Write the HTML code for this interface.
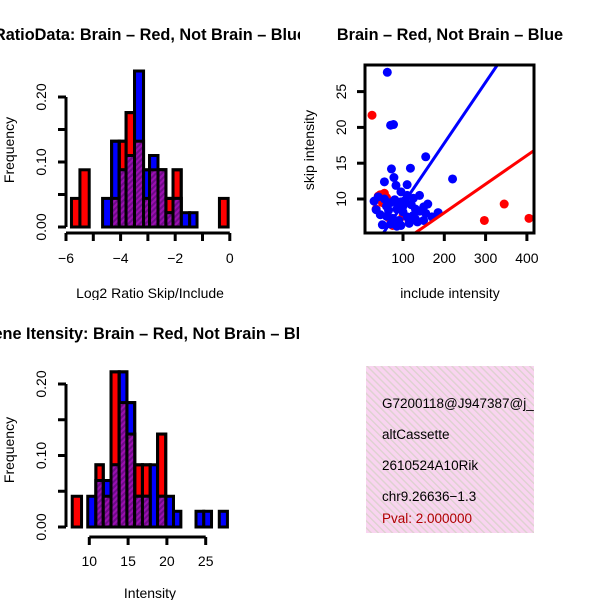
<!DOCTYPE html>
<html><head><meta charset="utf-8"><style>
body{margin:0;background:#fff}
svg{display:block;font-family:"Liberation Sans",sans-serif}
</style></head><body>
<svg id="c" width="600" height="600" xmlns="http://www.w3.org/2000/svg">
<defs>
<pattern id="hp" width="4" height="4" patternUnits="userSpaceOnUse" patternTransform="rotate(45)">
<rect width="4" height="4" fill="#9a10b0"/><rect width="2" height="4" fill="#6e0a88"/></pattern>
<pattern id="pk" width="5" height="5" patternUnits="userSpaceOnUse" patternTransform="rotate(-45)">
<rect width="5" height="5" fill="#f9d4f0"/><rect width="1.4" height="5" fill="#ddd2cf"/></pattern>
<clipPath id="lp1"><rect x="0" y="0" width="300" height="300"/></clipPath>
<clipPath id="lp3"><rect x="0" y="300" width="300" height="300"/></clipPath>
</defs>
</svg>
<script>
// Top-left histogram (log2 ratio)
const h1Left=[-5.80,-5.49,-4.66,-4.33,-4.05,-3.80,-3.49,-3.16,-2.94,-2.63,-2.34,-2.08,-1.78,-1.47,-0.38];
const h1Right=[-5.49,-5.15,-4.33,-4.05,-3.80,-3.49,-3.16,-2.94,-2.63,-2.34,-2.08,-1.78,-1.47,-1.20,-0.06];
const h1Red=[0.044,0.088,0,0.044,0.132,0.176,0.132,0.044,0.088,0.088,0.044,0.088,0,0,0.044];
const h1Blue=[0,0,0.044,0.132,0.088,0.110,0.240,0.088,0.110,0.088,0.022,0.044,0.022,0.022,0];
const h1XTicks=[-6,-5,-4,-3,-2,-1,0];
const h1XLabels=["−6","","−4","","−2","","0"];
const h1YTicks=[0,0.05,0.10,0.15,0.20];
const h1YLabels=["0.00","","0.10","","0.20"];
// Bottom-left histogram (intensity)
const h2Left=[7.8,9.8,10.85,11.8,12.8,13.85,14.85,15.85,16.85,17.85,18.8,19.85,20.85,23.75,24.75,26.75];
const h2Right=[9.0,10.85,11.8,12.8,13.85,14.85,15.85,16.85,17.85,18.8,19.85,20.85,21.8,24.75,25.75,27.8];
const h2Red=[0.043,0,0.087,0.043,0.217,0.174,0.130,0.087,0.087,0,0.130,0,0,0,0,0];
const h2Blue=[0,0.043,0.065,0.065,0.087,0.217,0.174,0.043,0.043,0.087,0.043,0.043,0.022,0.022,0.022,0.022];
const h2XTicks=[10,15,20,25];
const h2YTicks=[0,0.05,0.10,0.15,0.20];
const h2YLabels=["0.00","","0.10","","0.20"];
// Scatter
const blueX=[62,70,77,155,220,118,72,78,55,83,110,185,160,30,40,55,70,80,95,105,120,130,140,150,85,100,110,125,90,75,60,45,115,95,70,50,135,150,65,100,125,140,110,95,88,35,60,155,170,85,130];
const blueY=[27.7,20.3,20.4,15.9,12.8,14.3,14.2,13.0,12.4,11.9,12.0,8.1,9.3,9.7,10.3,10.0,9.5,9.9,9.6,9.8,9.2,8.6,8.3,8.9,8.6,8.2,7.5,7.7,7.0,7.3,7.6,7.8,6.6,6.3,6.5,6.4,6.8,7.0,8.4,9.0,10.1,10.5,10.5,11.0,9.2,8.5,9.0,8.0,7.5,6.2,7.2];
const redX=[25,297,345,405,35,40,45,55,60,50,65,90,100,115,75,115];
const redY=[21.7,7.0,9.3,7.3,8.6,10.4,10.6,10.8,10.2,9.5,7.4,6.5,7.6,6.9,6.3,7.2];
const blueFit=[0.085,0.8];
const redFit=[0.040,0.08];
const sxTicks=[100,200,300,400];
const syTicks=[10,15,20,25];

const svg=document.getElementById('c');
const NS='http://www.w3.org/2000/svg';
const FS=14, TFS=16.3;
function mk(tag,attrs,parent){const e=document.createElementNS(NS,tag);for(const k in attrs)e.setAttribute(k,attrs[k]);(parent||svg).appendChild(e);return e;}
function txt(s,x,y,opt,parent){const t=mk('text',Object.assign({x:x,y:y,'font-size':FS,'text-anchor':'middle'},opt||{}),parent);t.textContent=s;return t;}

function hist(g,L,R,Rd,Bl,sx,sy){
  const y0=sy(0);
  for(let i=0;i<L.length;i++){
    const x1=sx(L[i]),x2=sx(R[i]);
    if(Rd[i]>0){const r=mk('rect',{x:x1,y:sy(Rd[i]),width:x2-x1,height:y0-sy(Rd[i]),fill:'#ff0000',stroke:'#000','stroke-width':3},g);
      
      }
    if(Bl[i]>0){const b=mk('rect',{x:x1,y:sy(Bl[i]),width:x2-x1,height:y0-sy(Bl[i]),fill:'#0000ff',stroke:'#000','stroke-width':3},g);
      
      }
  }
  for(let i=0;i<L.length;i++){
    const m=Math.min(Rd[i],Bl[i]);
    if(Rd[i]>0&&Bl[i]>0){
      const x1=sx(L[i]),x2=sx(R[i]),top=Math.max(Rd[i],Bl[i]);
      mk('rect',{x:x1,y:sy(top),width:x2-x1,height:y0-sy(top),fill:'none',stroke:'#000','stroke-width':3},g);
      const p=mk('rect',{x:x1,y:sy(m),width:x2-x1,height:y0-sy(m),fill:'url(#hp)',stroke:'#000','stroke-width':3},g);
      
      
    }
  }
}

// Panel 1
{
const g=mk('g',{'clip-path':'url(#lp1)'});


const sx=v=>66+(v+6)*27.3, sy=v=>227-v*650;
hist(g,h1Left,h1Right,h1Red,h1Blue,sx,sy);
mk('line',{x1:66,y1:sy(0),x2:66,y2:sy(0.2),stroke:'#000','stroke-width':3},g);
h1YTicks.forEach((t,i)=>{mk('line',{x1:58,y1:sy(t),x2:66,y2:sy(t),stroke:'#000','stroke-width':3},g);
 if(h1YLabels[i]) txt(h1YLabels[i],0,0,{transform:`translate(46,${sy(t)}) rotate(-90)`},g);});
mk('line',{x1:sx(-6),y1:233,x2:sx(0),y2:233,stroke:'#000','stroke-width':3},g);
h1XTicks.forEach((t,i)=>{mk('line',{x1:sx(t),y1:233,x2:sx(t),y2:241,stroke:'#000','stroke-width':3},g);
 if(h1XLabels[i]) txt(h1XLabels[i],sx(t),263,{},g);});
const t1=txt('RatioData: Brain – Red, Not Brain – Blue',150,40,{'font-size':TFS,'font-weight':'bold'},g);

txt('Log2 Ratio Skip/Include',150,298,{},g);
txt('Frequency',0,0,{transform:'translate(14,150) rotate(-90)'},g);
}
// Panel 3
{
const g=mk('g',{'clip-path':'url(#lp3)'});


const sx=v=>89.3+(v-10)*7.76, sy=v=>527-v*715;
hist(g,h2Left,h2Right,h2Red,h2Blue,sx,sy);
mk('line',{x1:66,y1:sy(0),x2:66,y2:sy(0.2),stroke:'#000','stroke-width':3},g);
h2YTicks.forEach((t,i)=>{mk('line',{x1:58,y1:sy(t),x2:66,y2:sy(t),stroke:'#000','stroke-width':3},g);
 if(h2YLabels[i]) txt(h2YLabels[i],0,0,{transform:`translate(46,${sy(t)}) rotate(-90)`},g);});
mk('line',{x1:sx(10),y1:537,x2:sx(25),y2:537,stroke:'#000','stroke-width':3},g);
h2XTicks.forEach(t=>{mk('line',{x1:sx(t),y1:537,x2:sx(t),y2:545,stroke:'#000','stroke-width':3},g);
 txt(String(t),sx(t),566,{},g);});
txt('Gene Itensity: Brain – Red, Not Brain – Blue',150,339,{'font-size':TFS,'font-weight':'bold'},g);
txt('Intensity',150,598,{},g);
txt('Frequency',0,0,{transform:'translate(14,450) rotate(-90)'},g);
}
// Panel 2 scatter
{
const g=mk('g',{});


const sx=v=>403+(v-100)*0.413, sy=v=>199-(v-10)*7.16;
const cp=mk('clipPath',{id:'sc'},g);mk('rect',{x:365,y:65,width:169,height:168},cp);
const pg=mk('g',{'clip-path':'url(#sc)'},g);
for(let i=0;i<redX.length;i++){const c=mk('circle',{cx:sx(redX[i]),cy:sy(redY[i]),r:4.5,fill:'#ff0000'},pg);
 }
for(let i=0;i<blueX.length;i++){const c=mk('circle',{cx:sx(blueX[i]),cy:sy(blueY[i]),r:4.5,fill:'#0000ff'},pg);
 }
const bl=mk('line',{x1:sx(0),y1:sy(blueFit[1]),x2:sx(500),y2:sy(blueFit[0]*500+blueFit[1]),stroke:'#0000ff','stroke-width':3},pg);

const rl=mk('line',{x1:sx(0),y1:sy(redFit[1]),x2:sx(500),y2:sy(redFit[0]*500+redFit[1]),stroke:'#ff0000','stroke-width':3},pg);

mk('rect',{x:365,y:65,width:169,height:168,fill:'none',stroke:'#000','stroke-width':3},g);
sxTicks.forEach(t=>{mk('line',{x1:sx(t),y1:233,x2:sx(t),y2:241,stroke:'#000','stroke-width':3},g);txt(String(t),sx(t),263,{},g);});
syTicks.forEach(t=>{mk('line',{x1:357,y1:sy(t),x2:365,y2:sy(t),stroke:'#000','stroke-width':3},g);
 txt(String(t),0,0,{transform:`translate(346,${sy(t)}) rotate(-90)`},g);});
txt('Brain – Red, Not Brain – Blue',450,40,{'font-size':TFS,'font-weight':'bold'},g);
txt('include intensity',450,298,{},g);
txt('skip intensity',0,0,{transform:'translate(314,150) rotate(-90)'},g);
}
// Info box
{
const g=mk('g',{});


const cp=mk('clipPath',{id:'ib'},g);mk('rect',{x:366,y:366,width:168,height:167},cp);
mk('rect',{x:366,y:366,width:168,height:167,fill:'url(#pk)'},g);
const tg=mk('g',{'clip-path':'url(#ib)'},g);
const lines=[['G7200118@J947387@j_',408,'#000'],['altCassette',439,'#000'],['2610524A10Rik',470,'#000'],['chr9.26636−1.3',501,'#000'],['Pval: 2.000000',523,'#b00000']];
lines.forEach(l=>{const t=txt(l[0],382,l[1],{'text-anchor':'start',fill:l[2],'font-size':13.5},tg);
 });
}
</script>
</body></html>
